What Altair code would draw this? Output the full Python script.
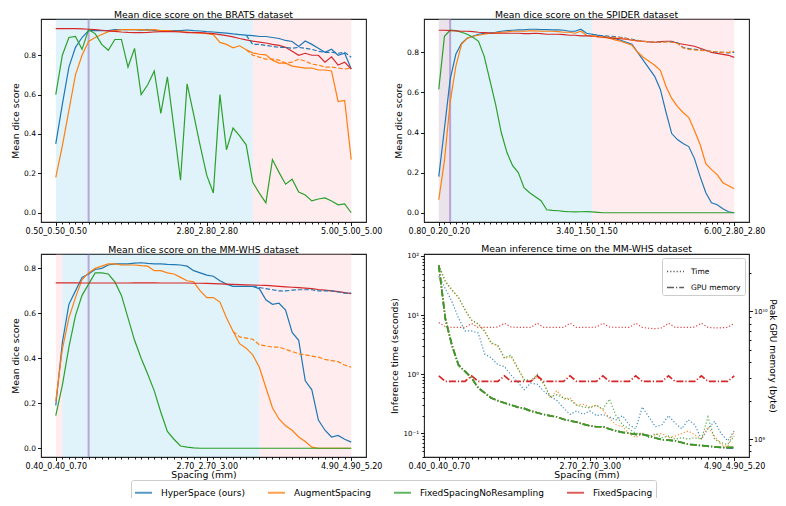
import altair as alt
import pandas as pd

FONT = "DejaVu Sans"

methods = ["HyperSpace (ours)", "AugmentSpacing", "FixedSpacingNoResampling", "FixedSpacing"]
palette = ["#1f77b4", "#ff7f0e", "#2ca02c", "#d62728"]

# ---------------- BRATS ----------------
brats_title = "Mean dice score on the BRATS dataset"
brats_tick_pos = [0, 23, 45]
brats_tick_labels = ["0.50_0.50_0.50", "2.80_2.80_2.80", "5.00_5.00_5.00"]
brats_hyper = [0.35, 0.55, 0.74, 0.84, 0.89, 0.925, 0.925, 0.925, 0.925, 0.93,
               0.93, 0.93, 0.93, 0.928, 0.93, 0.925, 0.925, 0.925, 0.925, 0.925,
               0.928, 0.925, 0.923, 0.92, 0.918, 0.915, 0.912, 0.908, 0.905, 0.902,
               0.90, 0.895, 0.895, 0.89, 0.885, 0.875, 0.87, 0.845, 0.872, 0.855,
               0.835, 0.815, 0.83, 0.80, 0.81, 0.73]
brats_augment = [0.18, 0.34, 0.52, 0.70, 0.80, 0.87, 0.89, 0.905, 0.92, 0.925,
                 0.93, 0.93, 0.93, 0.93, 0.928, 0.93, 0.925, 0.925, 0.922, 0.92,
                 0.918, 0.915, 0.912, 0.91, 0.905, 0.865, 0.855, 0.838, 0.848, 0.828,
                 0.812, 0.805, 0.802, 0.775, 0.76, 0.76, 0.745, 0.74, 0.735, 0.735,
                 0.725, 0.725, 0.72, 0.565, 0.57, 0.27]
brats_noresample = [0.60, 0.80, 0.89, 0.895, 0.83, 0.93, 0.91, 0.855, 0.825, 0.88,
                    0.88, 0.74, 0.835, 0.60, 0.65, 0.72, 0.505, 0.69, 0.43, 0.165,
                    0.655, 0.50, 0.34, 0.19, 0.10, 0.60, 0.32, 0.43, 0.39, 0.345,
                    0.155, 0.10, 0.05, 0.27, 0.205, 0.145, 0.17, 0.105, 0.09, 0.06,
                    0.07, 0.075, 0.06, 0.04, 0.045, 0.0]
brats_fixed = [0.935, 0.935, 0.935, 0.935, 0.934, 0.932, 0.93, 0.927, 0.924, 0.921,
               0.918, 0.916, 0.915, 0.915, 0.916, 0.918, 0.92, 0.92, 0.92, 0.918,
               0.915, 0.915, 0.915, 0.912, 0.91, 0.905, 0.90, 0.893, 0.885, 0.878,
               0.872, 0.867, 0.862, 0.855, 0.85, 0.84, 0.82, 0.80, 0.81, 0.80,
               0.80, 0.765, 0.792, 0.75, 0.765, 0.73]
brats_resampled_start = 29
brats_hyper_resampled = [0.902, 0.855, 0.855, 0.85, 0.845, 0.84, 0.84, 0.835, 0.84, 0.835,
                         0.83, 0.82, 0.815, 0.815, 0.81, 0.815, 0.79]
brats_augment_resampled = [0.828, 0.80, 0.79, 0.78, 0.78, 0.775, 0.76, 0.765, 0.78, 0.77,
                           0.755, 0.75, 0.74, 0.74, 0.735, 0.73, 0.735]
brats_in_spans = [[0, 30]]
brats_out_spans = [[30, 45]]
brats_marker = 5
brats_ydomain = [-0.047, 0.984]

# ---------------- SPIDER ----------------
spider_title = "Mean dice score on the SPIDER dataset"
spider_tick_pos = [0, 26, 52]
spider_tick_labels = ["0.80_0.20_0.20", "3.40_1.50_1.50", "6.00_2.80_2.80"]
spider_hyper = [0.18, 0.42, 0.665, 0.79, 0.845, 0.87, 0.88, 0.89, 0.895, 0.897,
                0.90, 0.905, 0.908, 0.91, 0.912, 0.912, 0.915, 0.915, 0.913, 0.913,
                0.912, 0.912, 0.91, 0.905, 0.905, 0.915, 0.895, 0.89, 0.885, 0.88,
                0.875, 0.868, 0.86, 0.85, 0.84, 0.80, 0.76, 0.72, 0.68, 0.615,
                0.50, 0.395, 0.365, 0.345, 0.33, 0.27, 0.18, 0.10, 0.05, 0.04,
                0.02, 0.005, 0.0]
spider_augment = [0.065, 0.26, 0.55, 0.73, 0.84, 0.87, 0.88, 0.885, 0.89, 0.895,
                  0.897, 0.90, 0.902, 0.905, 0.905, 0.905, 0.907, 0.907, 0.905, 0.905,
                  0.905, 0.903, 0.90, 0.90, 0.895, 0.905, 0.885, 0.882, 0.878, 0.875,
                  0.87, 0.862, 0.855, 0.845, 0.835, 0.80, 0.775, 0.755, 0.735, 0.71,
                  0.63, 0.57, 0.53, 0.50, 0.475, 0.41, 0.34, 0.245, 0.215, 0.19,
                  0.15, 0.135, 0.12]
spider_noresample = [0.615, 0.88, 0.91, 0.908, 0.90, 0.89, 0.875, 0.855, 0.78, 0.66,
                     0.54, 0.40, 0.30, 0.235, 0.20, 0.125, 0.10, 0.08, 0.06, 0.015,
                     0.012, 0.01, 0.007, 0.005, 0.004, 0.005, 0.006, 0.004, 0.002, 0.0,
                     0.0, 0.0, 0.0, 0.0, 0.0, 0.0, 0.0, 0.0, 0.0, 0.0,
                     0.0, 0.0, 0.0, 0.0, 0.0, 0.0, 0.0, 0.0, 0.0, 0.0,
                     0.0, 0.0, 0.0]
spider_fixed = [0.91, 0.91, 0.908, 0.907, 0.905, 0.905, 0.903, 0.90, 0.898, 0.896,
                0.895, 0.895, 0.895, 0.895, 0.895, 0.893, 0.893, 0.895, 0.893, 0.89,
                0.89, 0.89, 0.888, 0.885, 0.885, 0.882, 0.882, 0.88, 0.878, 0.875,
                0.872, 0.87, 0.868, 0.865, 0.86, 0.857, 0.855, 0.852, 0.85, 0.853,
                0.855, 0.855, 0.845, 0.84, 0.835, 0.83, 0.82, 0.81, 0.80, 0.795,
                0.79, 0.785, 0.775]
spider_resampled_start = 27
spider_hyper_resampled = [0.89, 0.885, 0.882, 0.88, 0.878, 0.875, 0.87, 0.865, 0.86, 0.855,
                          0.852, 0.85, 0.85, 0.853, 0.852, 0.848, 0.825, 0.818, 0.815, 0.812,
                          0.808, 0.805, 0.80, 0.80, 0.797, 0.80]
spider_augment_resampled = [0.882, 0.878, 0.877, 0.875, 0.875, 0.872, 0.868, 0.862, 0.858, 0.855,
                            0.852, 0.85, 0.85, 0.852, 0.85, 0.845, 0.822, 0.815, 0.812, 0.81,
                            0.808, 0.805, 0.802, 0.80, 0.80, 0.805]
spider_in_spans = [[0, 27]]
spider_out_spans = [[0, 2], [27, 52]]
spider_marker = 2
spider_ydomain = [-0.046, 0.966]

# ---------------- MM-WHS ----------------
mm_title = "Mean dice score on the MM-WHS dataset"
mm_tick_pos = [0, 23, 45]
mm_tick_labels = ["0.40_0.40_0.70", "2.70_2.70_3.00", "4.90_4.90_5.20"]
mm_hyper = [0.19, 0.47, 0.64, 0.70, 0.76, 0.775, 0.795, 0.80, 0.815, 0.82,
            0.82, 0.82, 0.823, 0.825, 0.822, 0.82, 0.82, 0.818, 0.817, 0.815,
            0.81, 0.79, 0.78, 0.77, 0.765, 0.745, 0.73, 0.72, 0.72, 0.72,
            0.72, 0.71, 0.66, 0.64, 0.645, 0.615, 0.515, 0.48, 0.30, 0.26,
            0.125, 0.08, 0.05, 0.057, 0.04, 0.027]
mm_augment = [0.21, 0.44, 0.58, 0.67, 0.75, 0.78, 0.80, 0.81, 0.82, 0.82,
              0.815, 0.815, 0.815, 0.812, 0.81, 0.79, 0.79, 0.78, 0.775, 0.76,
              0.745, 0.74, 0.70, 0.67, 0.67, 0.65, 0.58, 0.52, 0.465, 0.445,
              0.415, 0.36, 0.27, 0.18, 0.13, 0.10, 0.08, 0.05, 0.03, 0.005,
              0.0, 0.0, 0.0, 0.0, 0.0, 0.0]
mm_noresample = [0.145, 0.28, 0.45, 0.59, 0.68, 0.73, 0.78, 0.78, 0.775, 0.74,
                 0.68, 0.58, 0.48, 0.40, 0.33, 0.255, 0.16, 0.075, 0.04, 0.01,
                 0.005, 0.002, 0.0, 0.0, 0.0, 0.0, 0.0, 0.0, 0.0, 0.0,
                 0.0, 0.0, 0.0, 0.0, 0.0, 0.0, 0.0, 0.0, 0.0, 0.0,
                 0.0, 0.0, 0.0, 0.0, 0.0, 0.0]
mm_fixed = [0.736, 0.736, 0.736, 0.736, 0.735, 0.735, 0.735, 0.735, 0.735, 0.735,
            0.735, 0.735, 0.736, 0.736, 0.736, 0.736, 0.735, 0.735, 0.735, 0.735,
            0.735, 0.734, 0.734, 0.733, 0.732, 0.731, 0.730, 0.729, 0.728, 0.727,
            0.726, 0.725, 0.724, 0.722, 0.72, 0.718, 0.716, 0.714, 0.712, 0.71,
            0.706, 0.703, 0.70, 0.697, 0.692, 0.688]
mm_hyper_resampled_start = 30
mm_hyper_resampled = [0.72, 0.715, 0.71, 0.705, 0.70, 0.70, 0.703, 0.705, 0.705, 0.705,
                      0.70, 0.70, 0.70, 0.695, 0.69, 0.69]
mm_augment_resampled_start = 27
mm_augment_resampled = [0.52, 0.495, 0.49, 0.485, 0.46, 0.455, 0.45, 0.45, 0.44, 0.43,
                        0.42, 0.415, 0.41, 0.405, 0.395, 0.39, 0.385, 0.37, 0.36]
mm_in_spans = [[1, 31]]
mm_out_spans = [[0, 1], [31, 45]]
mm_marker = 5
mm_ydomain = [-0.039, 0.864]

# ---------------- MM-WHS inference time / memory ----------------
time_title = "Mean inference time on the MM-WHS dataset"
time_hyper = [46, 28, 17, 9.0, 5.4, 5.4, 5.0, 2.2, 1.9, 1.45,
              1.35, 0.97, 0.75, 0.55, 0.71, 0.68, 0.52, 0.42, 0.36, 0.27,
              0.21, 0.24, 0.21, 0.24, 0.2, 0.21, 0.19, 0.17, 0.2, 0.14,
              0.12, 0.28, 0.19, 0.13, 0.14, 0.2, 0.15, 0.12, 0.17, 0.14,
              0.08, 0.12, 0.16, 0.1, 0.075, 0.11]
time_augment = [69, 36, 26, 20, 12, 8.1, 7.2, 5.2, 3.3, 3.0,
                1.86, 2.0, 1.26, 0.8, 0.76, 0.9, 0.7, 0.4, 0.53, 0.38,
                0.4, 0.3, 0.31, 0.28, 0.3, 0.25, 0.18, 0.14, 0.13, 0.1,
                0.085, 0.1, 0.09, 0.095, 0.1, 0.085, 0.09, 0.1, 0.11, 0.095,
                0.08, 0.13, 0.09, 0.065, 0.06, 0.11]
time_noresample = [70, 38, 27, 20, 12.5, 8.3, 7.0, 5.4, 3.4, 3.1,
                   1.9, 2.1, 1.3, 0.82, 0.78, 1.0, 0.68, 0.42, 0.45, 0.40,
                   0.37, 0.30, 0.28, 0.27, 0.30, 0.26, 0.38, 0.20, 0.14, 0.12,
                   0.10, 0.10, 0.085, 0.10, 0.085, 0.09, 0.08, 0.085, 0.08, 0.085,
                   0.08, 0.19, 0.08, 0.07, 0.065, 0.09]
time_fixed = [7.5, 6.4, 6.2, 6.2, 6.2, 7.2, 6.2, 6.2, 6.2, 6.3,
              7.3, 6.3, 6.2, 6.2, 6.2, 7.3, 6.2, 6.2, 6.2, 6.2,
              7.3, 6.2, 6.2, 6.2, 6.3, 7.3, 6.3, 6.2, 6.2, 6.2,
              7.3, 6.2, 6.0, 5.9, 6.1, 7.3, 6.2, 6.2, 6.2, 6.3,
              7.3, 6.2, 6.1, 6.1, 6.2, 7.3]
mem_hyper = [2.30e10, 8.77e9, 5.45e9, 3.81e9, 3.39e9, 3.01e9, 2.52e9, 2.30e9, 2.10e9, 2.00e9,
             1.92e9, 1.85e9, 1.78e9, 1.74e9, 1.66e9, 1.61e9, 1.56e9, 1.52e9, 1.49e9, 1.43e9,
             1.39e9, 1.36e9, 1.31e9, 1.27e9, 1.25e9, 1.25e9, 1.20e9, 1.16e9, 1.13e9, 1.11e9,
             1.09e9, 1.09e9, 1.06e9, 1.02e9, 0.99e9, 0.98e9, 0.97e9, 0.94e9, 0.91e9, 0.90e9,
             0.89e9, 0.88e9, 0.87e9, 0.86e9, 0.85e9, 0.85e9]
mem_augment = [2.30e10, 8.77e9, 5.45e9, 3.81e9, 3.39e9, 3.01e9, 2.52e9, 2.30e9, 2.10e9, 2.00e9,
               1.92e9, 1.85e9, 1.78e9, 1.74e9, 1.66e9, 1.61e9, 1.56e9, 1.52e9, 1.49e9, 1.43e9,
               1.39e9, 1.36e9, 1.31e9, 1.27e9, 1.25e9, 1.25e9, 1.20e9, 1.16e9, 1.13e9, 1.11e9,
               1.09e9, 1.09e9, 1.06e9, 1.02e9, 0.99e9, 0.98e9, 0.97e9, 0.94e9, 0.91e9, 0.90e9,
               0.89e9, 0.88e9, 0.87e9, 0.86e9, 0.86e9, 0.86e9]
mem_noresample = [2.30e10, 8.77e9, 5.45e9, 3.81e9, 3.39e9, 3.01e9, 2.52e9, 2.30e9, 2.10e9, 2.00e9,
                  1.92e9, 1.85e9, 1.78e9, 1.74e9, 1.66e9, 1.61e9, 1.56e9, 1.52e9, 1.49e9, 1.43e9,
                  1.39e9, 1.36e9, 1.31e9, 1.27e9, 1.25e9, 1.25e9, 1.20e9, 1.16e9, 1.13e9, 1.11e9,
                  1.09e9, 1.09e9, 1.06e9, 1.02e9, 0.99e9, 0.98e9, 0.97e9, 0.94e9, 0.91e9, 0.90e9,
                  0.89e9, 0.88e9, 0.87e9, 0.86e9, 0.86e9, 0.86e9]
mem_fixed = [3.13e9, 2.83e9, 2.83e9, 2.83e9, 2.83e9, 3.13e9, 2.83e9, 2.83e9, 2.83e9, 2.83e9,
             3.13e9, 2.83e9, 2.83e9, 2.83e9, 2.83e9, 3.13e9, 2.83e9, 2.83e9, 2.83e9, 2.83e9,
             3.13e9, 2.83e9, 2.83e9, 2.83e9, 2.83e9, 3.13e9, 2.83e9, 2.83e9, 2.83e9, 2.83e9,
             3.13e9, 2.83e9, 2.83e9, 2.83e9, 2.83e9, 3.13e9, 2.83e9, 2.83e9, 2.83e9, 2.83e9,
             3.13e9, 2.83e9, 2.83e9, 2.83e9, 2.83e9, 3.13e9]
time_domain = [0.04, 108]
mem_domain = [7.24e8, 2.82e10]
time_major = [(0.1, "10⁻¹"), (1.0, "10⁰"), (10.0, "10¹"), (100.0, "10²")]
mem_major = [(1e9, "10⁹"), (1e10, "10¹⁰")]
metrics = ["Time", "GPU memory"]

# ---------------- styling ----------------
W, H = 325, 203
BLUE_FILL = "#87ceeb"
PINK_FILL = "#ffc0cb"
MARKER_COLOR = "#9467bd"
DASH_RESAMPLED = [4.5, 2]

color_scale = alt.Scale(domain=methods, range=palette)
main_legend = alt.Legend(
    title=None, orient="none", legendX=90, legendY=461, direction="horizontal",
    columns=4, symbolType="stroke", symbolSize=289, symbolStrokeWidth=2,
    symbolOpacity=0.75, labelFont=FONT, labelFontSize=9, labelColor="#000",
    columnPadding=19, labelOffset=8, padding=3, fillColor="white",
    strokeColor="#cccccc", cornerRadius=2,
)


def panel_title(text):
    return alt.TitleParams(text, font=FONT, fontSize=9.3, fontWeight="normal",
                           color="#000", offset=-2, frame="group")


def long_table(series):
    rows = []
    for method, start, values in series:
        for k, v in enumerate(values):
            rows.append({"idx": start + k, "method": method, "value": v})
    return pd.DataFrame(rows)


def x_axis(n, tick_pos, tick_labels, title):
    label_expr = "".join(f"datum.value == {p} ? '{l}' : " for p, l in zip(tick_pos, tick_labels)) + "''"
    major = " || ".join(f"datum.value == {p}" for p in tick_pos)
    return alt.Axis(
        title=title, values=list(range(n)), labelExpr=label_expr, labelOverlap=False,
        labelFlush=False, tickSize={"condition": {"test": major, "value": 3.5}, "value": 2.0},
        labelFontSize=8, labelPadding=1.5, titlePadding=0.5, titleFontSize=9.3,
    )


def dice_panel(title, n, tick_pos, tick_labels, solid, dashed, in_spans, out_spans,
               marker, ydomain, xtitle):
    xs = alt.Scale(domain=[-0.05 * (n - 1), 1.05 * (n - 1)], nice=False, zero=False)
    ys = alt.Scale(domain=ydomain, nice=False, zero=False)
    xa = x_axis(n, tick_pos, tick_labels, xtitle)
    ya = alt.Axis(values=[0.0, 0.2, 0.4, 0.6, 0.8], format=".1f", title="Mean dice score",
                  tickSize=3.5, labelFontSize=7.5, labelPadding=2, titlePadding=3.5,
                  titleFontSize=9.3)
    in_df = pd.DataFrame({"start": [s for s, e in in_spans], "end": [e for s, e in in_spans]})
    out_df = pd.DataFrame({"start": [s for s, e in out_spans], "end": [e for s, e in out_spans]})
    layers = [
        alt.Chart(in_df).mark_rect(fill=BLUE_FILL, opacity=0.25).encode(
            x=alt.X("start:Q", scale=xs, axis=xa), x2="end:Q"),
        alt.Chart(out_df).mark_rect(fill=PINK_FILL, opacity=0.3).encode(
            x=alt.X("start:Q", scale=xs, axis=xa), x2="end:Q"),
        alt.Chart(pd.DataFrame({"idx": [marker]})).mark_rule(
            color=MARKER_COLOR, opacity=0.55, strokeWidth=2).encode(
            x=alt.X("idx:Q", scale=xs, axis=xa)),
        alt.Chart(long_table(solid)).mark_line(strokeWidth=1.2).encode(
            x=alt.X("idx:Q", scale=xs, axis=xa),
            y=alt.Y("value:Q", scale=ys, axis=ya),
            color=alt.Color("method:N", scale=color_scale, legend=main_legend)),
        alt.Chart(long_table(dashed)).mark_line(strokeWidth=1.2, strokeDash=DASH_RESAMPLED).encode(
            x=alt.X("idx:Q", scale=xs, axis=xa),
            y=alt.Y("value:Q", scale=ys, axis=ya),
            stroke=alt.Stroke("method:N", scale=color_scale, legend=None)),
    ]
    return alt.layer(*layers).properties(width=W, height=H, title=panel_title(title))


def log_values(lo, hi):
    vals = []
    for d in range(-3, 12):
        for k in range(1, 10):
            v = float(f"{k}e{d}")
            if lo <= v <= hi:
                vals.append(v)
    return vals


def log_axis(lo, hi, major, title, orient, label_pad, title_pad, label_size, title_size):
    expr = "".join(f"datum.value == {v!r} ? '{t}' : " for v, t in major) + "''"
    test = " || ".join(f"datum.value == {v!r}" for v, t in major)
    return alt.Axis(
        title=title, orient=orient, values=log_values(lo, hi), labelExpr=expr,
        labelOverlap=False, labelFlush=False,
        tickSize={"condition": {"test": test, "value": 3.5}, "value": 2.0},
        labelFontSize=label_size, labelPadding=label_pad, titlePadding=title_pad,
        titleFontSize=title_size,
    )


tl = dice_panel(brats_title, len(brats_hyper), brats_tick_pos, brats_tick_labels,
                [(methods[0], 0, brats_hyper), (methods[1], 0, brats_augment),
                 (methods[2], 0, brats_noresample), (methods[3], 0, brats_fixed)],
                [(methods[0], brats_resampled_start, brats_hyper_resampled),
                 (methods[1], brats_resampled_start, brats_augment_resampled)],
                brats_in_spans, brats_out_spans, brats_marker, brats_ydomain, None)

tr = dice_panel(spider_title, len(spider_hyper), spider_tick_pos, spider_tick_labels,
                [(methods[0], 0, spider_hyper), (methods[1], 0, spider_augment),
                 (methods[2], 0, spider_noresample), (methods[3], 0, spider_fixed)],
                [(methods[0], spider_resampled_start, spider_hyper_resampled),
                 (methods[1], spider_resampled_start, spider_augment_resampled)],
                spider_in_spans, spider_out_spans, spider_marker, spider_ydomain, None)

bl = dice_panel(mm_title, len(mm_hyper), mm_tick_pos, mm_tick_labels,
                [(methods[0], 0, mm_hyper), (methods[1], 0, mm_augment),
                 (methods[2], 0, mm_noresample), (methods[3], 0, mm_fixed)],
                [(methods[0], mm_hyper_resampled_start, mm_hyper_resampled),
                 (methods[1], mm_augment_resampled_start, mm_augment_resampled)],
                mm_in_spans, mm_out_spans, mm_marker, mm_ydomain, "Spacing (mm)")

# bottom-right panel
n_t = len(time_hyper)
xs_t = alt.Scale(domain=[-0.05 * (n_t - 1), 1.05 * (n_t - 1)], nice=False, zero=False)
xa_t = x_axis(n_t, mm_tick_pos, mm_tick_labels, "Spacing (mm)")
time_df = long_table([(methods[0], 0, time_hyper), (methods[1], 0, time_augment),
                      (methods[2], 0, time_noresample), (methods[3], 0, time_fixed)])
time_df["metric"] = metrics[0]
mem_df = long_table([(methods[0], 0, mem_hyper), (methods[1], 0, mem_augment),
                     (methods[2], 0, mem_noresample), (methods[3], 0, mem_fixed)])
mem_df["metric"] = metrics[1]

dash_legend = alt.Legend(
    title=None, orient="top-right", offset=4, symbolType="stroke", symbolSize=289,
    symbolStrokeColor="#444", symbolStrokeWidth=1.3, labelFont=FONT, labelFontSize=7.5,
    labelColor="#000", fillColor="white", strokeColor="#cccccc", padding=4,
    cornerRadius=2, rowPadding=3, labelOffset=6,
)
dash_enc = alt.StrokeDash("metric:N", scale=alt.Scale(domain=metrics,
                          range=[[1.2, 2.0], [7.0, 2.0, 1.2, 2.0]]), legend=dash_legend)

time_layer = alt.Chart(time_df).mark_line(strokeWidth=1.2, opacity=0.85).encode(
    x=alt.X("idx:Q", scale=xs_t, axis=xa_t),
    y=alt.Y("value:Q", scale=alt.Scale(type="log", domain=time_domain, nice=False),
            axis=log_axis(time_domain[0], time_domain[1], time_major,
                          "Inference time (seconds)", "left", 2, 3.5, 7, 9.3)),
    color=alt.Color("method:N", scale=color_scale, legend=main_legend),
    strokeDash=dash_enc,
)
mem_layer = alt.Chart(mem_df).mark_line(strokeWidth=1.7).encode(
    x=alt.X("idx:Q", scale=xs_t, axis=xa_t),
    y=alt.Y("value:Q", scale=alt.Scale(type="log", domain=mem_domain, nice=False),
            axis=log_axis(mem_domain[0], mem_domain[1], mem_major,
                          "Peak GPU memory (byte)", "right", 1, 0, 6.6, 9)),
    color=alt.Color("method:N", scale=color_scale, legend=main_legend),
    strokeDash=dash_enc,
)
br = alt.layer(time_layer, mem_layer).resolve_scale(y="independent").properties(
    width=W, height=H, title=panel_title(time_title))

# fixed page geometry: first plot area starts 33px right / 11px below the svg corner,
# the svg is 770x490 so that the page never overflows the 786x506 window
chart = alt.concat(
    tl, tr, bl, br, columns=2, spacing={"row": 32, "column": 58}, bounds="flush"
).resolve_scale(strokeDash="independent").resolve_legend(strokeDash="independent").properties(
    autosize=alt.AutoSizeParams(type="none"),
    padding={"left": 33, "top": 11, "right": 737, "bottom": 479},
).configure(font=FONT, background="white").configure_view(
    stroke="#222222", strokeWidth=1.1
).configure_axis(
    domain=False, grid=False, labelFont=FONT, titleFont=FONT, labelColor="#000",
    titleColor="#000", tickColor="#000", tickWidth=0.9, titleFontWeight="normal",
)

chart.save("out.html", embed_options={"renderer": "svg", "actions": False})
